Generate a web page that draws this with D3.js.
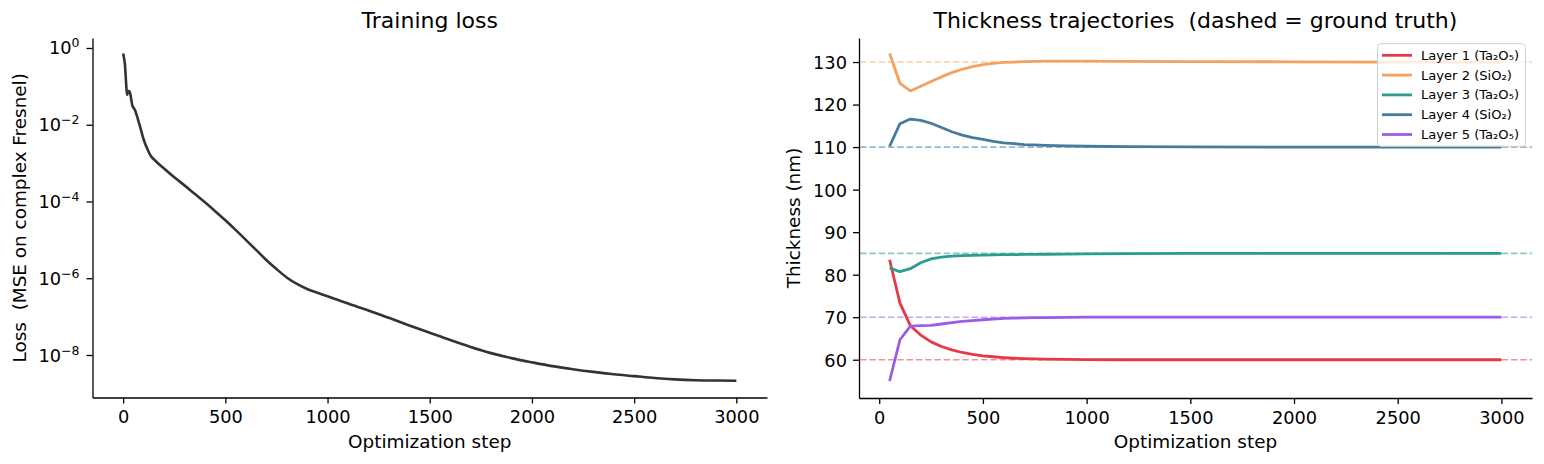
<!DOCTYPE html>
<html>
<head>
<meta charset="utf-8">
<script src="https://cdn.jsdelivr.net/npm/d3@7"></script>
<style>
  body { margin: 0; background: #fff; }
  svg text { font-family: "DejaVu Sans", sans-serif; fill: #000; }
</style>
</head>
<body>
<div id="chart"></div>
<script>
// ---- data ----
const lossSteps = [0, 8, 20, 25, 32, 38, 44, 57, 80, 101, 120, 134, 160, 200, 250, 300, 350, 400, 450, 500, 550, 600, 650, 700, 750, 800, 850, 900, 950, 1000, 1100, 1200, 1300, 1400, 1500, 1600, 1700, 1800, 1900, 2000, 2100, 2200, 2300, 2400, 2500, 2600, 2700, 2800, 2900, 3000];
const lossValues = [7.2e-1, 4.0e-1, 6.0e-2, 7.6e-2, 7.2e-2, 5.2e-2, 3.3e-2, 2.45e-2, 1.0e-2, 4.0e-3, 2.24e-3, 1.58e-3, 1.12e-3, 7.2e-4, 4.27e-4, 2.63e-4, 1.58e-4, 9.5e-5, 5.6e-5, 3.24e-5, 1.82e-5, 1.0e-5, 5.5e-6, 3.0e-6, 1.74e-6, 1.05e-6, 7.1e-7, 5.25e-7, 4.2e-7, 3.4e-7, 2.19e-7, 1.45e-7, 9.3e-8, 5.9e-8, 3.8e-8, 2.45e-8, 1.62e-8, 1.12e-8, 8.3e-9, 6.46e-9, 5.13e-9, 4.27e-9, 3.63e-9, 3.16e-9, 2.82e-9, 2.51e-9, 2.32e-9, 2.21e-9, 2.16e-9, 2.14e-9];

const trajSteps = [50, 100, 150, 200, 250, 300, 350, 400, 450, 500, 550, 600, 650, 700, 750, 800, 900, 1000, 1200, 1500, 2000, 2500, 3000];
const layer1 = [83.5, 73.3, 68.0, 65.8, 64.2, 63.1, 62.3, 61.7, 61.25, 60.9, 60.7, 60.5, 60.35, 60.25, 60.18, 60.12, 60.06, 60.03, 60.0, 60.0, 60.0, 60.0, 60.0];
const layer2 = [132.0, 125.0, 123.2, 124.3, 125.4, 126.5, 127.5, 128.3, 128.9, 129.4, 129.7, 129.9, 130.0, 130.1, 130.15, 130.2, 130.2, 130.2, 130.15, 130.1, 130.05, 130.0, 130.0];
const layer3 = [81.6, 80.7, 81.4, 82.8, 83.7, 84.1, 84.35, 84.5, 84.55, 84.6, 84.65, 84.7, 84.72, 84.75, 84.78, 84.8, 84.85, 84.9, 84.95, 85.0, 85.0, 85.0, 85.0];
const layer4 = [110.2, 115.5, 116.6, 116.3, 115.6, 114.6, 113.6, 112.8, 112.25, 111.8, 111.35, 111.0, 110.8, 110.6, 110.5, 110.4, 110.28, 110.2, 110.1, 110.05, 110.0, 110.0, 110.0];
const layer5 = [55.0, 64.7, 67.9, 68.0, 68.1, 68.4, 68.7, 69.0, 69.2, 69.4, 69.55, 69.7, 69.78, 69.85, 69.88, 69.9, 69.95, 70.0, 70.0, 70.0, 70.0, 70.0, 70.0];
const groundTruth = [60, 130, 85, 110, 70];
const layerNames = ["Layer 1 (Ta\u2082O\u2085)", "Layer 2 (SiO\u2082)", "Layer 3 (Ta\u2082O\u2085)", "Layer 4 (SiO\u2082)", "Layer 5 (Ta\u2082O\u2085)"];
const layerColors = ["#e63946", "#f4a261", "#2a9d8f", "#457b9d", "#9b5de5"];

const stepTicks = [0, 500, 1000, 1500, 2000, 2500, 3000];
const lossTicks = [0, -2, -4, -6, -8];   // exponents
const thickTicks = [60, 70, 80, 90, 100, 110, 120, 130];

// ---- layout ----
const W = 1544, H = 464;
const tickFont = 17.8, labelFont = 18.4, titleFont = 22;

const svg = d3.select("#chart").append("svg")
    .attr("width", W).attr("height", H);

function styleAxis(g) {
    g.select(".domain").attr("stroke", "#000").attr("stroke-width", 1.3);
    g.selectAll(".tick line").attr("stroke", "#000").attr("stroke-width", 1.3);
    g.selectAll(".tick text").attr("font-size", tickFont).attr("fill", "#000")
        .attr("font-family", "DejaVu Sans");
}

// ===== left panel: training loss =====
const L = { x0: 92.5, x1: 767, y0: 38, y1: 397.5 };
const xL = d3.scaleLinear().domain([-150, 3150]).range([L.x0, L.x1]);
const yL = d3.scaleLog().domain([Math.pow(10, -9.107), Math.pow(10, 0.26)]).range([L.y1, L.y0]);

svg.append("g")
    .attr("transform", `translate(0,${L.y1})`)
    .call(d3.axisBottom(xL).tickValues(stepTicks).tickFormat(d3.format("d"))
        .tickSize(6).tickPadding(7).tickSizeOuter(0))
    .call(styleAxis);

const yAxL = svg.append("g")
    .attr("transform", `translate(${L.x0},0)`)
    .call(d3.axisLeft(yL).tickValues(lossTicks.map(e => Math.pow(10, e)))
        .tickSize(6).tickSizeOuter(0).tickFormat(""))
    .call(styleAxis);
yAxL.selectAll(".tick").each(function (d) {
    const e = Math.round(Math.log10(d));
    const t = d3.select(this).append("text")
        .attr("x", -13).attr("y", 6)
        .attr("text-anchor", "end")
        .attr("font-size", tickFont).attr("fill", "#000");
    t.append("tspan").text("10");
    t.append("tspan").attr("font-size", 12.5).attr("dy", -7)
        .text(e < 0 ? "\u2212" + (-e) : String(e));
});

svg.append("path")
    .datum(lossSteps.map((s, i) => [s, lossValues[i]]))
    .attr("fill", "none")
    .attr("stroke", "#333333")
    .attr("stroke-width", 2.6)
    .attr("stroke-linejoin", "round")
    .attr("d", d3.line().x(d => xL(d[0])).y(d => yL(d[1])).curve(d3.curveMonotoneX));

svg.append("text")
    .attr("x", (L.x0 + L.x1) / 2).attr("y", 28)
    .attr("text-anchor", "middle").attr("font-size", titleFont)
    .text("Training loss");
svg.append("text")
    .attr("x", (L.x0 + L.x1) / 2).attr("y", 448)
    .attr("text-anchor", "middle").attr("font-size", labelFont)
    .text("Optimization step");
svg.append("text")
    .attr("transform", `translate(26,${(L.y0 + L.y1) / 2}) rotate(-90)`)
    .attr("text-anchor", "middle").attr("font-size", labelFont)
    .style("white-space", "pre")
    .text("Loss  (MSE on complex Fresnel)");

// ===== right panel: thickness trajectories =====
const R = { x0: 859, x1: 1532, y0: 38, y1: 398 };
const xR = d3.scaleLinear().domain([-97.5, 3147.5]).range([R.x0, R.x1]);
const yR = d3.scaleLinear().domain([51.0, 135.65]).range([R.y1, R.y0]);

svg.append("g")
    .attr("transform", `translate(0,${R.y1})`)
    .call(d3.axisBottom(xR).tickValues(stepTicks).tickFormat(d3.format("d"))
        .tickSize(6).tickPadding(7).tickSizeOuter(0))
    .call(styleAxis);
svg.append("g")
    .attr("transform", `translate(${R.x0},0)`)
    .call(d3.axisLeft(yR).tickValues(thickTicks).tickSize(6).tickPadding(6).tickSizeOuter(0))
    .call(styleAxis)
    .selectAll(".tick text").attr("dy", "0.36em");

// dashed ground-truth lines
svg.append("g").selectAll("line")
    .data(groundTruth)
    .join("line")
    .attr("x1", R.x0 + 1).attr("x2", R.x1)
    .attr("y1", d => yR(d)).attr("y2", d => yR(d))
    .attr("stroke", (d, i) => layerColors[i])
    .attr("stroke-opacity", 0.55)
    .attr("stroke-width", 1.6)
    .attr("stroke-dasharray", "6.5,2.8");

const layers = [layer1, layer2, layer3, layer4, layer5];
const lineR = d3.line().x(d => xR(d[0])).y(d => yR(d[1]));
svg.append("g").selectAll("path")
    .data(layers)
    .join("path")
    .attr("fill", "none")
    .attr("stroke", (d, i) => layerColors[i])
    .attr("stroke-width", 2.8)
    .attr("stroke-linejoin", "round")
    .attr("d", vals => lineR(trajSteps.map((s, i) => [s, vals[i]])));

svg.append("text")
    .attr("x", (R.x0 + R.x1) / 2).attr("y", 28)
    .attr("text-anchor", "middle").attr("font-size", titleFont)
    .style("white-space", "pre")
    .text("Thickness trajectories  (dashed = ground truth)");
svg.append("text")
    .attr("x", (R.x0 + R.x1) / 2).attr("y", 448)
    .attr("text-anchor", "middle").attr("font-size", labelFont)
    .text("Optimization step");
svg.append("text")
    .attr("transform", `translate(800,${(R.y0 + R.y1) / 2}) rotate(-90)`)
    .attr("text-anchor", "middle").attr("font-size", labelFont)
    .text("Thickness (nm)");

// legend (upper right)
const leg = svg.append("g").attr("transform", "translate(1377.5,43.7)");
leg.append("rect")
    .attr("width", 148).attr("height", 102.6)
    .attr("rx", 3).attr("ry", 3)
    .attr("fill", "#fff").attr("fill-opacity", 0.8)
    .attr("stroke", "#d0d0d0").attr("stroke-width", 1);
const items = leg.selectAll("g.item")
    .data(layerNames)
    .join("g")
    .attr("class", "item")
    .attr("transform", (d, i) => `translate(0,${11.6 + i * 19.8})`);
items.append("line")
    .attr("x1", 4.5).attr("x2", 34.5)
    .attr("stroke", (d, i) => layerColors[i])
    .attr("stroke-width", 2.8);
items.append("text")
    .attr("x", 43.5).attr("y", 4.5)
    .attr("font-size", 13.1)
    .text(d => d);
</script>
</body>
</html>
